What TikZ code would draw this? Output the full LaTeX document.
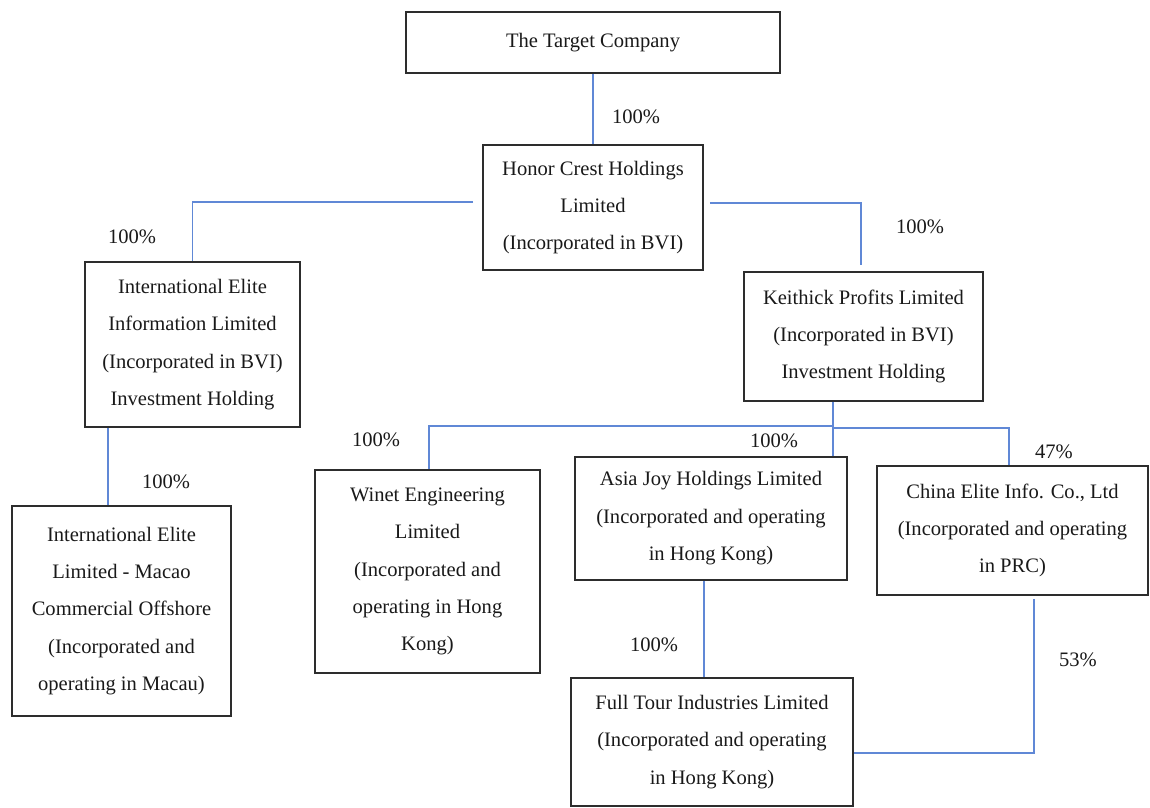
\documentclass[tikz,border=0pt]{standalone}
\usepackage{fontspec}
\setmainfont{Liberation Serif}
\usetikzlibrary{calc}
\definecolor{connblue}{RGB}{96,136,214}
\definecolor{boxline}{RGB}{45,45,45}
\definecolor{txt}{RGB}{25,25,25}
\begin{document}
\begin{tikzpicture}[x=0.02cm,y=-0.02cm,
  box/.style={draw=boxline,line width=0.9pt,align=center,inner sep=0pt,text=txt,
    font=\fontsize{11.7}{21.3}\selectfont},
  conn/.style={draw=connblue,line width=0.8pt},
  pct/.style={text=txt,inner sep=0pt,font=\fontsize{11.7}{14}\selectfont}]
\useasboundingbox (0,0) rectangle (1150,808);

\node[box,minimum width=374*0.02cm,minimum height=61*0.02cm] (tgt) at (593,42.5) {The Target Company};
\node[box,minimum width=220*0.02cm,minimum height=125*0.02cm] (hon) at (593,207.5) {Honor Crest Holdings\\Limited\\(Incorporated in BVI)};
\node[box,minimum width=215*0.02cm,minimum height=165*0.02cm] (iei) at (192.5,344.5) {International Elite\\Information Limited\\(Incorporated in BVI)\\Investment Holding};
\node[box,minimum width=219*0.02cm,minimum height=210*0.02cm] (mac) at (121.5,611) {International Elite\\Limited - Macao\\Commercial Offshore\\(Incorporated and\\operating in Macau)};
\node[box,minimum width=239*0.02cm,minimum height=129*0.02cm] (kei) at (863.5,336.5) {Keithick Profits Limited\\(Incorporated in BVI)\\Investment Holding};
\node[box,minimum width=225*0.02cm,minimum height=203*0.02cm] (win) at (427.5,571.5) {Winet Engineering\\Limited\\(Incorporated and\\operating in Hong\\Kong)};
\node[box,minimum width=272*0.02cm,minimum height=123*0.02cm] (asia) at (711,518.5) {Asia Joy Holdings Limited\\(Incorporated and operating\\in Hong Kong)};
\node[box,minimum width=271*0.02cm,minimum height=129*0.02cm] (chi) at (1012.5,530.5) {China Elite Info. Co., Ltd\\(Incorporated and operating\\in PRC)};
\node[box,minimum width=282*0.02cm,minimum height=128*0.02cm] (ful) at (712,742) {Full Tour Industries Limited\\(Incorporated and operating\\in Hong Kong)};

\coordinate (bus) at (833,426);

\draw[conn] (tgt.south) -- (hon.north);
\draw[conn] ([shift={(-9,-5.5)}]hon.west) -| (iei.north);
\draw[conn] ([shift={(6,-4.5)}]hon.east) -| ([shift={(-2.5,-6)}]kei.north);
\draw[conn] ([shift={(-84.5,0)}]iei.south) -- ([shift={(-84.5,0)}]iei.south |- mac.north);
\draw[conn] ([shift={(-30.5,0)}]kei.south) -- ([shift={(-30.5,0)}]kei.south |- asia.north);
\draw[conn] ([shift={(1.5,0)}]win.north) |- (bus);
\draw[conn] ([shift={(0,2)}]bus) -| ([shift={(-3.5,0)}]chi.north);
\draw[conn] ([shift={(-7,0)}]asia.south) -- ([shift={(-7,0)}]asia.south |- ful.north);
\draw[conn] ([shift={(21.5,3)}]chi.south) |- ([shift={(0,11)}]ful.east);

\node[pct] (p1) at (636,117) {100\%};
\node[pct] (p2) at (132,237) {100\%};
\node[pct] (p3) at (920,227) {100\%};
\node[pct] (p4) at (166,482) {100\%};
\node[pct] (p5) at (376,440) {100\%};
\node[pct] (p6) at (774,441) {100\%};
\node[pct] (p7) at (1054,452) {47\%};
\node[pct] (p8) at (654,645) {100\%};
\node[pct] (p9) at (1078,660) {53\%};
\end{tikzpicture}
\end{document}
